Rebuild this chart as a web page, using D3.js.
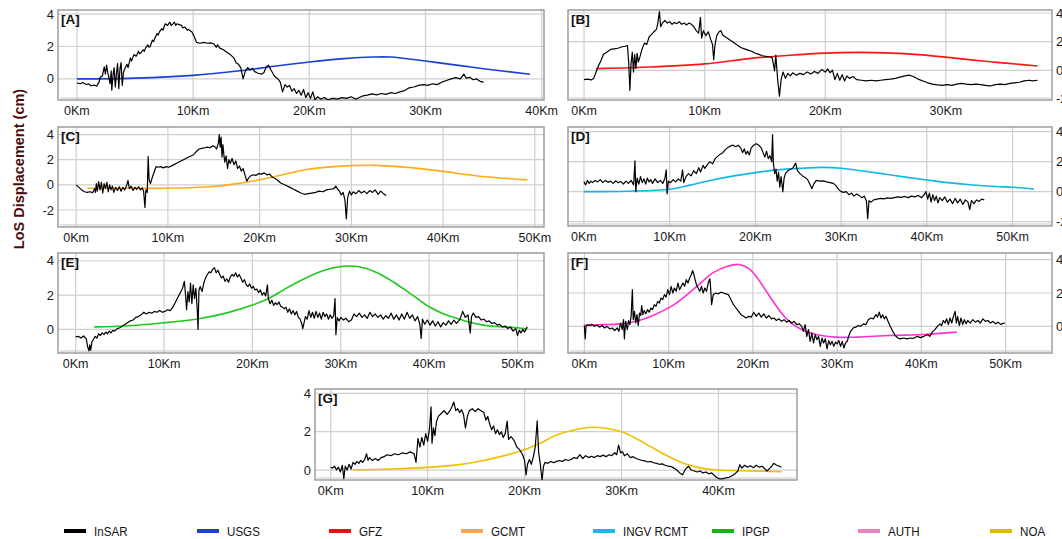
<!DOCTYPE html>
<html><head><meta charset="utf-8">
<script src="https://cdn.jsdelivr.net/npm/d3@7"></script>
<style>
html,body{margin:0;padding:0;background:#fff;}
svg{display:block;}
</style></head>
<body><svg id="chart" width="1062" height="539"></svg>
<script>
// ---------------- DATA ----------------
const legendLabels = ["InSAR","USGS","GFZ","GCMT","INGV RCMT","IPGP","AUTH","NOA"];
const panelLabels = ["[A]","[B]","[C]","[D]","[E]","[F]","[G]"];
const yTitle = "LoS Displacement (cm)";

const insarA = [[0,-0.25],[0.3,-0.3],[0.5,-0.22],[0.8,-0.35],[1.0,-0.3],[1.2,-0.42],[1.5,-0.38],[1.7,-0.45],[1.9,-0.2],[2.0,0.1],[2.2,0.2],[2.35,0.75],[2.45,0.3],[2.55,0.85],[2.65,0.4],[2.75,0.1],[2.85,-0.3],[2.95,0.5],[3.0,-0.7],[3.1,0.2],[3.2,0.7],[3.3,-0.5],[3.4,0.3],[3.5,0.95],[3.6,-0.6],[3.7,0.6],[3.8,1.0],[3.9,-0.4],[4.0,0.4],[4.1,0.6],[4.3,0.9],[4.4,0.7],[4.6,1.3],[4.7,1.1],[4.9,1.5],[5.1,1.4],[5.3,1.7],[5.4,1.55],[5.5,1.6],[5.7,1.8],[5.8,1.7],[5.9,1.9],[6.1,2.1],[6.2,1.95],[6.3,2.0],[6.5,2.4],[6.6,2.3],[6.7,2.5],[6.9,2.8],[7.0,2.7],[7.1,2.9],[7.3,3.1],[7.4,3.0],[7.5,3.2],[7.6,3.4],[7.8,3.3],[8.0,3.5],[8.1,3.3],[8.2,3.35],[8.4,3.5],[8.5,3.3],[8.6,3.4],[8.8,3.35],[9.0,3.3],[9.1,3.15],[9.3,3.2],[9.5,3.0],[9.6,3.05],[9.9,2.9],[10.1,2.6],[10.3,2.25],[10.6,2.2],[10.9,2.25],[11.2,2.2],[11.5,2.22],[11.8,2.15],[12.0,1.95],[12.1,2.1],[12.3,1.9],[12.6,1.8],[12.9,1.65],[13.2,1.5],[13.5,1.3],[13.7,1.0],[13.9,0.9],[14.1,0.7],[14.3,0.0],[14.5,0.5],[14.7,0.7],[14.9,0.55],[15.1,0.65],[15.3,0.45],[15.6,0.35],[15.9,0.3],[16.1,0.4],[16.3,0.75],[16.5,0.85],[16.7,0.55],[16.9,0.3],[17.1,0.1],[17.3,0.0],[17.5,-0.2],[17.7,-0.8],[17.9,-0.35],[18.1,-0.5],[18.3,-0.4],[18.5,-0.75],[18.7,-0.6],[18.9,-0.9],[19.1,-0.7],[19.3,-1.0],[19.5,-0.65],[19.7,-1.15],[19.9,-0.85],[20.1,-1.2],[20.3,-0.8],[20.5,-1.3],[20.7,-1.1],[21.0,-1.25],[21.3,-1.15],[21.6,-1.3],[22.0,-1.2],[22.4,-1.25],[22.8,-1.15],[23.2,-1.2],[23.6,-1.1],[24.0,-1.25],[24.3,-1.15],[24.6,-1.05],[25.0,-1.0],[25.4,-0.92],[25.8,-0.98],[26.2,-0.9],[26.6,-0.95],[27.0,-0.85],[27.4,-0.9],[27.8,-0.8],[28.2,-0.72],[28.6,-0.55],[29.0,-0.5],[29.4,-0.4],[29.8,-0.35],[30.2,-0.4],[30.6,-0.3],[31.0,-0.35],[31.4,-0.2],[31.8,-0.1],[32.2,0.0],[32.6,0.08],[33.0,0.0],[33.3,0.3],[33.5,0.05],[33.8,0.1],[34.1,-0.05],[34.4,0.0],[34.7,-0.15],[35.0,-0.2]];
const usgsA = [[0,0],[5,0.05],[10,0.22],[14,0.5],[17,0.78],[20,1.04],[23,1.25],[25.5,1.35],[27,1.35],[30,1.1],[33,0.82],[35,0.63],[39,0.29]];

const insarB = [[0,-0.65],[0.3,-0.61],[0.6,-0.67],[0.8,-0.56],[1.0,-0.12],[1.2,0.32],[1.4,0.67],[1.6,1.11],[1.9,1.28],[2.2,1.46],[2.5,1.5],[2.8,1.54],[3.1,1.63],[3.4,1.68],[3.6,1.72],[3.7,0.58],[3.8,-1.4],[3.9,0.49],[4.0,1.28],[4.1,-0.12],[4.2,1.11],[4.3,0.14],[4.4,1.19],[4.5,0.58],[4.6,0.84],[4.8,1.46],[5.0,1.9],[5.2,1.81],[5.4,2.34],[5.6,2.51],[5.8,2.69],[6.0,2.86],[6.1,3.21],[6.25,4.1],[6.35,3.04],[6.5,3.3],[6.7,3.48],[6.9,3.3],[7.1,3.39],[7.3,3.21],[7.5,3.34],[7.7,3.26],[7.9,3.39],[8.1,3.21],[8.3,3.3],[8.5,3.17],[8.7,3.3],[8.9,3.21],[9.1,3.04],[9.3,2.77],[9.5,2.6],[9.65,3.7],[9.75,2.25],[9.9,2.77],[10.1,2.42],[10.3,2.69],[10.5,2.16],[10.65,1.81],[10.75,0.75],[10.85,1.72],[11.0,2.42],[11.2,2.69],[11.35,2.77],[11.5,2.47],[11.8,2.29],[12.1,2.12],[12.4,1.94],[12.7,1.76],[13.0,1.59],[13.3,1.5],[13.6,1.41],[13.9,1.33],[14.2,1.19],[14.5,1.11],[14.8,1.02],[15.1,0.97],[15.4,0.93],[15.6,0.89],[15.8,-0.04],[15.9,1.06],[16.05,-0.6],[16.2,-1.8],[16.35,-0.6],[16.5,-0.12],[16.7,-0.56],[16.9,-0.21],[17.1,-0.39],[17.3,-0.17],[17.6,-0.34],[17.9,-0.21],[18.2,-0.3],[18.5,-0.12],[18.8,-0.25],[19.1,-0.08],[19.4,-0.21],[19.7,0.05],[20.0,-0.12],[20.2,0.1],[20.4,-0.17],[20.6,0.01],[20.8,-0.65],[21.0,-0.21],[21.2,-0.69],[21.4,-0.3],[21.6,-0.74],[21.8,-0.39],[22.0,-0.56],[22.3,-0.43],[22.6,-0.65],[23.0,-0.69],[23.4,-0.74],[23.8,-0.69],[24.2,-0.74],[24.6,-0.69],[25.0,-0.65],[25.4,-0.61],[25.8,-0.56],[26.2,-0.47],[26.6,-0.39],[27.0,-0.34],[27.3,-0.43],[27.7,-0.61],[28.1,-0.74],[28.5,-0.87],[28.9,-0.96],[29.3,-1.02],[29.7,-1.05],[30.1,-1.0],[30.5,-1.05],[30.9,-0.96],[31.3,-0.91],[31.7,-0.96],[32.1,-1.0],[32.5,-0.96],[32.9,-1.0],[33.3,-1.05],[33.7,-1.09],[34.1,-1.0],[34.5,-0.96],[34.9,-1.0],[35.3,-0.91],[35.7,-0.87],[36.1,-0.83],[36.5,-0.74],[36.9,-0.69],[37.2,-0.74],[37.6,-0.69]];
const gfzB = [[1.0,0.12],[5,0.22],[10,0.45],[14,0.85],[17,1.05],[20,1.2],[22.7,1.25],[25,1.22],[28,1.08],[30,0.92],[33,0.65],[35,0.5],[37.6,0.3]];

const insarC = [[0,0.0],[0.3,-0.2],[0.6,-0.4],[0.9,-0.55],[1.2,-0.6],[1.5,-0.55],[1.8,-0.62],[2.0,-0.3],[2.1,-0.6],[2.2,0.1],[2.3,-0.5],[2.45,0.25],[2.6,-0.4],[2.75,0.2],[2.9,-0.65],[3.05,0.1],[3.2,-0.3],[3.35,0.2],[3.5,-0.55],[3.65,0.0],[3.8,-0.4],[3.95,-0.1],[4.1,-0.6],[4.3,-0.2],[4.5,-0.45],[4.7,-0.15],[4.9,-0.5],[5.1,-0.2],[5.3,-0.4],[5.5,-0.05],[5.65,0.35],[5.8,-0.3],[6.0,-0.1],[6.2,-0.45],[6.4,-0.2],[6.6,-0.35],[6.8,-0.15],[7.0,-0.4],[7.2,-0.25],[7.35,-0.5],[7.5,-1.8],[7.6,-0.4],[7.75,-0.6],[7.85,2.25],[7.95,0.4],[8.1,0.1],[8.3,0.6],[8.5,1.0],[8.7,1.45],[8.9,1.4],[9.2,1.45],[9.5,1.35],[9.8,1.45],[10.1,1.4],[10.5,1.55],[10.9,1.7],[11.3,1.85],[11.7,2.0],[12.1,2.15],[12.5,2.3],[12.8,2.4],[13.1,2.65],[13.4,2.85],[13.7,2.9],[14.0,2.95],[14.3,3.0],[14.6,2.95],[14.9,3.1],[15.1,3.05],[15.3,2.85],[15.5,3.3],[15.6,4.0],[15.7,3.0],[15.8,3.8],[15.9,2.2],[16.0,3.2],[16.1,2.4],[16.2,1.8],[16.35,2.3],[16.5,1.3],[16.65,2.0],[16.8,1.7],[17.0,2.1],[17.2,1.6],[17.4,1.9],[17.6,1.3],[17.8,1.5],[18.0,1.1],[18.2,1.3],[18.4,0.8],[18.6,0.3],[18.8,0.55],[19.0,0.7],[19.3,0.8],[19.6,0.75],[19.9,0.9],[20.2,0.85],[20.5,0.95],[20.8,0.8],[21.1,0.85],[21.4,0.6],[21.7,0.5],[22.0,0.35],[22.3,0.15],[22.6,0.05],[22.9,-0.05],[23.3,-0.2],[23.7,-0.35],[24.1,-0.5],[24.5,-0.65],[24.9,-0.75],[25.3,-0.7],[25.7,-0.65],[26.1,-0.6],[26.5,-0.5],[26.9,-0.55],[27.3,-0.4],[27.7,-0.35],[28.1,-0.3],[28.3,-0.1],[28.5,-0.35],[28.7,-0.5],[28.9,-0.8],[29.1,-0.6],[29.3,-1.2],[29.45,-2.7],[29.6,-1.0],[29.8,-0.5],[30.0,-0.8],[30.2,-0.55],[30.5,-0.7],[30.8,-0.45],[31.1,-0.65],[31.4,-0.5],[31.7,-0.7],[32.0,-0.45],[32.3,-0.6],[32.6,-0.4],[32.9,-0.75],[33.2,-0.5],[33.5,-0.7],[33.8,-0.85]];
const gcmtC = [[1.25,-0.27],[5,-0.27],[10,-0.27],[15,-0.13],[18,0.15],[20,0.4],[22.5,0.8],[25,1.2],[28,1.45],[30,1.53],[32.6,1.55],[35,1.45],[38,1.25],[40,1.07],[44.3,0.67],[49.2,0.4]];

const insarD = [[0,0.67],[0.2,0.45],[0.4,0.75],[0.6,0.55],[0.8,0.7],[1.0,0.6],[1.3,0.75],[1.6,0.65],[1.9,0.8],[2.2,0.6],[2.5,0.75],[2.8,0.62],[3.1,0.7],[3.4,0.55],[3.7,0.72],[4.0,0.6],[4.3,0.68],[4.6,0.5],[4.9,0.7],[5.2,0.55],[5.5,0.75],[5.8,0.45],[5.95,2.05],[6.05,0.0],[6.2,0.9],[6.4,0.5],[6.6,1.0],[6.8,0.6],[7.0,0.85],[7.2,0.5],[7.4,0.9],[7.6,0.65],[7.8,0.8],[8.0,0.55],[8.3,0.85],[8.6,0.6],[8.9,0.75],[9.2,0.55],[9.45,0.9],[9.6,1.45],[9.7,-0.15],[9.85,0.7],[10.1,0.6],[10.4,0.8],[10.7,0.65],[11.0,0.85],[11.3,0.7],[11.5,1.45],[11.65,0.6],[11.9,1.0],[12.2,1.2],[12.5,1.05],[12.8,1.4],[13.1,1.2],[13.4,1.6],[13.6,1.3],[13.9,1.75],[14.1,1.55],[14.4,1.8],[14.7,2.0],[15.0,1.85],[15.3,2.2],[15.6,2.35],[15.9,2.5],[16.2,2.6],[16.5,2.8],[16.8,2.95],[17.1,3.05],[17.4,3.1],[17.7,3.0],[18.0,3.1],[18.3,2.9],[18.5,2.6],[18.7,2.85],[18.9,2.5],[19.1,2.7],[19.3,2.45],[19.5,2.9],[19.8,3.1],[20.1,3.2],[20.4,3.1],[20.7,2.9],[20.9,2.6],[21.1,2.3],[21.3,2.7],[21.5,2.2],[21.7,2.4],[21.9,2.0],[22.0,3.8],[22.1,1.9],[22.25,1.2],[22.4,1.5],[22.55,0.7],[22.7,1.3],[22.85,0.3],[23.0,1.0],[23.2,0.0],[23.35,0.9],[23.5,1.2],[23.8,1.4],[24.1,1.5],[24.4,1.6],[24.7,1.9],[24.9,1.4],[25.2,1.2],[25.5,1.05],[25.8,0.95],[26.1,0.8],[26.4,0.45],[26.6,0.2],[26.8,0.5],[27.1,0.75],[27.5,0.7],[27.9,0.72],[28.3,0.65],[28.7,0.6],[29.1,0.55],[29.4,0.4],[29.7,0.15],[30.0,0.0],[30.3,-0.05],[30.6,0.0],[30.9,-0.2],[31.2,-0.1],[31.5,-0.3],[31.8,-0.15],[32.1,-0.25],[32.4,-0.4],[32.7,-0.3],[32.95,-0.6],[33.1,-1.8],[33.25,-0.6],[33.5,-0.7],[33.8,-0.55],[34.2,-0.5],[34.6,-0.45],[35.0,-0.48],[35.4,-0.42],[35.8,-0.45],[36.2,-0.4],[36.6,-0.35],[37.0,-0.38],[37.4,-0.32],[37.8,-0.4],[38.2,-0.3],[38.6,-0.35],[39.0,-0.25],[39.4,-0.4],[39.7,-0.2],[39.9,0.0],[40.1,-0.5],[40.3,-0.1],[40.5,-0.7],[40.7,-0.2],[40.9,-0.6],[41.1,-0.3],[41.3,-0.75],[41.5,-0.4],[41.8,-0.6],[42.1,-0.35],[42.4,-0.7],[42.7,-0.5],[43.0,-0.8],[43.3,-0.45],[43.6,-0.75],[43.9,-0.5],[44.2,-0.85],[44.5,-0.55],[44.8,-0.7],[45.0,-1.2],[45.2,-0.6],[45.5,-0.8],[45.8,-0.55],[46.1,-0.65],[46.4,-0.5],[46.7,-0.55]];
const ingvD = [[0,0],[5,0.03],[10,0.16],[12.5,0.45],[15,0.78],[17.5,1.05],[20,1.27],[22.5,1.45],[25,1.55],[27.9,1.62],[30,1.56],[32.5,1.38],[35,1.18],[37.5,0.97],[40,0.78],[42.5,0.6],[45.4,0.44],[48,0.34],[50,0.29],[52.5,0.18]];

const insarE = [[0,-0.43],[0.3,-0.4],[0.6,-0.5],[0.9,-0.38],[1.2,-0.55],[1.35,-1.0],[1.5,-1.25],[1.6,-0.9],[1.7,-1.2],[1.85,-0.7],[2.0,-0.6],[2.2,-0.4],[2.4,-0.5],[2.6,-0.25],[2.8,-0.35],[3.0,-0.2],[3.2,-0.3],[3.4,-0.15],[3.6,-0.25],[3.8,-0.1],[4.0,-0.2],[4.2,-0.05],[4.4,-0.1],[4.7,0.05],[5.0,0.1],[5.3,0.2],[5.6,0.3],[5.9,0.4],[6.2,0.5],[6.5,0.55],[6.8,0.7],[7.1,0.75],[7.4,0.85],[7.7,1.0],[8.0,0.9],[8.3,1.0],[8.6,0.95],[8.9,1.05],[9.2,1.0],[9.5,1.1],[9.8,1.0],[10.1,1.05],[10.4,1.15],[10.7,1.1],[11.0,1.3],[11.3,1.6],[11.6,1.9],[11.9,2.2],[12.1,2.4],[12.3,2.8],[12.45,1.9],[12.55,1.15],[12.7,2.2],[12.85,1.6],[13.0,2.7],[13.15,1.5],[13.3,2.6],[13.45,1.8],[13.6,2.4],[13.75,1.2],[13.85,0.0],[13.95,2.3],[14.1,2.5],[14.3,2.2],[14.5,2.7],[14.7,3.0],[14.9,3.2],[15.1,3.35],[15.3,3.3],[15.5,3.5],[15.7,3.6],[15.9,3.3],[16.1,3.45],[16.3,3.2],[16.5,3.0],[16.7,3.1],[16.9,2.8],[17.1,2.95],[17.3,2.75],[17.5,3.05],[17.7,3.2],[17.9,3.1],[18.1,3.3],[18.3,3.05],[18.5,3.2],[18.7,3.0],[18.9,2.75],[19.1,2.9],[19.3,2.6],[19.5,2.5],[19.7,2.65],[19.9,2.4],[20.1,2.5],[20.3,2.3],[20.5,2.35],[20.7,2.15],[20.9,2.3],[21.1,2.0],[21.3,2.15],[21.5,1.95],[21.7,2.6],[21.8,1.8],[22.0,1.5],[22.2,1.7],[22.4,1.4],[22.6,1.55],[22.8,1.45],[23.0,1.6],[23.2,1.35],[23.4,1.3],[23.6,1.2],[23.8,1.3],[24.0,1.0],[24.2,1.2],[24.4,0.9],[24.6,1.1],[24.8,0.85],[25.0,1.05],[25.2,0.7],[25.4,0.6],[25.6,0.3],[25.7,0.05],[25.85,0.4],[26.0,0.75],[26.2,0.6],[26.4,1.1],[26.6,0.7],[26.8,1.0],[27.0,0.65],[27.2,1.05],[27.4,0.7],[27.6,0.95],[27.8,0.6],[28.0,1.0],[28.2,0.75],[28.4,0.9],[28.6,0.6],[28.8,0.85],[29.0,0.65],[29.2,0.8],[29.35,1.8],[29.45,-0.3],[29.6,0.7],[29.8,0.5],[30.0,0.7],[30.3,0.55],[30.6,0.65],[30.9,0.45],[31.2,0.55],[31.5,0.9],[31.8,0.75],[32.1,0.95],[32.4,0.7],[32.7,0.85],[33.0,0.65],[33.3,1.0],[33.6,0.75],[33.9,0.9],[34.2,0.7],[34.5,0.85],[34.8,0.6],[35.1,0.8],[35.4,0.65],[35.7,0.95],[36.0,0.6],[36.3,0.85],[36.6,0.55],[36.9,0.9],[37.2,0.6],[37.5,1.0],[37.8,0.65],[38.1,0.85],[38.4,0.5],[38.7,0.75],[38.95,0.3],[39.1,-0.52],[39.25,0.6],[39.5,0.3],[39.8,0.55],[40.1,0.25],[40.4,0.5],[40.7,0.2],[41.0,0.45],[41.3,0.15],[41.6,0.4],[41.9,0.25],[42.2,0.5],[42.5,0.3],[42.8,0.55],[43.1,0.35],[43.5,0.6],[43.8,1.05],[44.1,0.7],[44.4,0.85],[44.65,-0.2],[44.8,0.75],[45.0,0.95],[45.3,0.7],[45.6,0.75],[45.9,0.55],[46.2,0.6],[46.5,0.45],[46.8,0.5],[47.1,0.35],[47.4,0.4],[47.7,0.25],[48.0,0.3],[48.3,0.15],[48.6,0.2],[48.9,0.05],[49.2,0.15],[49.5,-0.1],[49.8,0.05],[50.0,-0.35],[50.2,-0.05],[50.4,-0.2],[50.6,0.0],[50.8,-0.15],[51.0,0.05],[51.1,0.15]];
const ipgpE = [[2.1,0.15],[6,0.22],[10,0.39],[14.1,0.64],[17,0.95],[20,1.42],[22,1.85],[23.8,2.39],[26,2.98],[27.9,3.4],[29.5,3.62],[31.1,3.69],[32.7,3.58],[34.3,3.26],[36,2.75],[37.6,2.19],[40,1.32],[41.6,0.92],[43.2,0.64],[44.6,0.42],[46.1,0.25],[48,0.16],[50,0.1],[51.1,0.02]];

const insarF = [[0,0.05],[0.1,-0.76],[0.2,0.0],[0.4,0.1],[0.6,0.05],[0.9,0.12],[1.2,0.0],[1.5,0.08],[1.8,-0.05],[2.1,0.05],[2.4,-0.1],[2.7,0.0],[3.0,-0.15],[3.3,-0.1],[3.6,-0.25],[3.9,-0.1],[4.1,-0.3],[4.3,0.2],[4.5,-0.2],[4.65,0.4],[4.75,-0.75],[4.9,0.3],[5.1,-0.2],[5.25,0.35],[5.4,0.1],[5.55,0.6],[5.7,2.2],[5.8,0.4],[5.95,0.9],[6.1,0.2],[6.25,0.7],[6.4,0.05],[6.55,0.8],[6.7,0.65],[6.8,1.25],[6.95,0.7],[7.1,0.95],[7.3,0.75],[7.5,1.0],[7.7,0.85],[7.9,1.1],[8.1,1.0],[8.3,1.3],[8.5,1.2],[8.7,1.5],[8.9,1.4],[9.1,1.7],[9.3,1.6],[9.5,1.9],[9.7,1.75],[9.9,2.2],[10.1,1.9],[10.3,2.4],[10.5,2.0],[10.7,2.3],[10.9,2.1],[11.1,2.6],[11.3,2.2],[11.5,2.4],[11.7,2.6],[11.9,2.4],[12.1,2.8],[12.3,2.6],[12.5,2.9],[12.7,3.1],[12.85,3.35],[13.0,3.1],[13.15,2.8],[13.3,2.5],[13.5,2.3],[13.7,2.1],[13.9,2.4],[14.1,2.0],[14.3,2.3],[14.5,2.1],[14.7,2.6],[14.9,2.85],[15.0,2.2],[15.1,1.3],[15.3,1.9],[15.6,2.0],[15.9,1.95],[16.2,2.05],[16.5,2.0],[16.8,1.95],[17.1,1.9],[17.4,1.6],[17.7,1.3],[18.0,1.1],[18.3,0.9],[18.6,0.7],[18.9,0.6],[19.2,0.5],[19.5,0.6],[19.8,0.55],[20.1,0.85],[20.4,0.6],[20.7,0.8],[21.0,0.55],[21.3,0.75],[21.6,0.5],[21.9,0.65],[22.2,0.45],[22.5,0.5],[22.8,0.35],[23.1,0.45],[23.4,0.3],[23.7,0.4],[24.0,0.25],[24.3,0.35],[24.6,0.2],[24.9,0.3],[25.2,0.1],[25.5,0.15],[25.8,0.0],[26.0,-0.3],[26.2,0.1],[26.4,-0.6],[26.6,-0.2],[26.8,-0.9],[27.0,-0.4],[27.2,-1.0],[27.4,-0.5],[27.6,-0.8],[27.8,-0.6],[28.0,-1.2],[28.2,-0.7],[28.4,-1.0],[28.6,-0.75],[28.8,-1.35],[29.0,-0.85],[29.2,-1.1],[29.4,-0.9],[29.6,-1.2],[29.8,-0.95],[30.0,-1.05],[30.2,-0.85],[30.4,-1.2],[30.6,-0.9],[30.8,-1.3],[31.0,-1.0],[31.2,-0.9],[31.4,-0.55],[31.6,-0.3],[31.9,-0.1],[32.2,-0.05],[32.5,0.05],[32.8,0.0],[33.1,0.15],[33.4,0.1],[33.7,0.4],[34.0,0.5],[34.3,0.45],[34.6,0.7],[34.8,0.55],[35.0,0.85],[35.2,0.5],[35.4,0.7],[35.6,0.45],[35.8,0.6],[36.0,0.35],[36.3,0.0],[36.6,-0.3],[36.9,-0.55],[37.2,-0.7],[37.5,-0.75],[37.9,-0.7],[38.3,-0.75],[38.7,-0.7],[39.1,-0.72],[39.5,-0.6],[39.9,-0.68],[40.3,-0.6],[40.7,-0.5],[41.0,-0.6],[41.3,-0.35],[41.6,-0.2],[41.9,0.0],[42.2,0.15],[42.4,0.05],[42.6,0.35],[42.8,0.2],[43.0,0.45],[43.2,0.1],[43.4,0.5],[43.6,0.2],[43.8,0.6],[44.0,0.9],[44.15,0.2],[44.3,0.6],[44.5,0.05],[44.7,0.5],[44.9,0.1],[45.1,0.4],[45.3,0.15],[45.5,0.35],[45.8,0.2],[46.1,0.4],[46.4,0.25],[46.7,0.35],[47.0,0.2],[47.3,0.45],[47.6,0.3],[47.9,0.35],[48.2,0.2],[48.5,0.3],[48.8,0.15],[49.1,0.25],[49.4,0.12],[49.7,0.18],[49.9,0.2]];
const authF = [[0,0.06],[2.3,0.1],[4.6,0.16],[6.5,0.35],[8.2,0.67],[10.6,1.29],[12.9,2.2],[15.3,3.22],[16.9,3.59],[18.4,3.71],[19.6,3.43],[20.6,2.85],[21.6,2.1],[22.6,1.35],[23.6,0.67],[24.6,0.18],[25.6,-0.14],[27.5,-0.49],[29.9,-0.65],[32.3,-0.65],[36.2,-0.55],[40.2,-0.49],[44.2,-0.35]];

const insarG = [[0,0.15],[0.2,0.1],[0.4,0.2],[0.6,0.0],[0.8,0.15],[1.0,-0.1],[1.2,0.25],[1.35,-0.45],[1.5,0.2],[1.7,0.0],[1.9,0.3],[2.1,0.05],[2.3,0.4],[2.5,0.3],[2.7,0.45],[2.9,0.35],[3.1,0.5],[3.3,0.4],[3.5,0.55],[3.7,0.85],[3.85,0.5],[4.0,0.65],[4.3,0.5],[4.6,0.6],[4.9,0.5],[5.2,0.65],[5.5,0.7],[5.8,0.8],[6.2,0.75],[6.6,0.85],[7.0,0.8],[7.4,0.9],[7.8,0.85],[8.2,0.95],[8.6,0.85],[8.8,0.4],[9.0,1.65],[9.2,1.2],[9.4,1.7],[9.6,1.3],[9.8,1.9],[10.0,1.5],[10.2,2.2],[10.35,3.3],[10.45,1.4],[10.6,2.2],[10.75,1.8],[10.9,2.5],[11.1,2.8],[11.4,2.95],[11.7,3.1],[12.0,2.9],[12.3,3.1],[12.5,3.3],[12.7,3.55],[12.9,3.1],[13.1,3.2],[13.3,3.0],[13.5,3.15],[13.7,2.9],[13.9,2.2],[14.1,2.8],[14.3,3.1],[14.6,3.2],[14.9,3.05],[15.2,3.2],[15.5,3.1],[15.8,3.0],[16.0,2.6],[16.2,2.8],[16.4,2.4],[16.6,2.1],[16.8,2.3],[17.0,1.9],[17.2,2.1],[17.4,1.85],[17.6,2.0],[17.8,1.7],[18.0,1.9],[18.2,2.55],[18.35,1.6],[18.6,1.75],[18.9,1.55],[19.2,1.2],[19.5,1.05],[19.8,0.8],[20.0,0.5],[20.15,-0.26],[20.3,0.3],[20.5,0.55],[20.7,0.3],[20.9,0.7],[21.1,1.2],[21.3,2.57],[21.45,0.9],[21.6,0.4],[21.8,-0.55],[21.95,0.2],[22.1,0.4],[22.4,0.35],[22.7,0.45],[23.0,0.38],[23.3,0.45],[23.6,0.5],[23.9,0.45],[24.2,0.55],[24.5,0.5],[24.8,0.55],[25.1,0.65],[25.4,0.6],[25.7,0.8],[26.0,0.6],[26.3,0.75],[26.6,0.65],[26.9,0.72],[27.2,0.65],[27.5,0.75],[27.8,0.7],[28.1,0.78],[28.4,0.7],[28.7,0.8],[29.0,0.75],[29.3,0.9],[29.5,0.8],[29.7,1.3],[29.9,0.9],[30.1,0.95],[30.3,0.75],[30.6,0.85],[30.9,0.65],[31.2,0.7],[31.5,0.6],[31.8,0.55],[32.1,0.5],[32.4,0.48],[32.7,0.42],[33.0,0.45],[33.3,0.38],[33.6,0.35],[33.9,0.3],[34.2,0.32],[34.5,0.25],[34.8,0.2],[35.1,0.18],[35.4,0.1],[35.7,0.0],[36.0,-0.15],[36.3,-0.25],[36.6,0.05],[36.9,0.2],[37.2,0.0],[37.5,-0.05],[37.8,-0.1],[38.1,-0.05],[38.4,-0.15],[38.7,-0.1],[39.0,-0.2],[39.3,-0.15],[39.6,-0.3],[39.9,-0.42],[40.2,-0.46],[40.5,-0.45],[40.8,-0.4],[41.1,-0.38],[41.4,-0.3],[41.7,-0.2],[42.0,-0.05],[42.2,0.28],[42.4,0.1],[42.7,0.25],[43.0,0.15],[43.3,0.22],[43.6,0.12],[43.9,0.25],[44.2,0.15],[44.5,0.2],[44.8,0.05],[45.0,-0.05],[45.3,0.1],[45.5,0.2],[45.7,0.35],[46.0,0.25],[46.3,0.2],[46.5,0.14]];
const noaG = [[2.3,0],[6,0.05],[10,0.14],[13,0.27],[15.1,0.43],[17.5,0.7],[19.9,1.04],[21.6,1.4],[23.3,1.83],[25.2,2.1],[27.1,2.23],[28.5,2.17],[30,2.0],[31.5,1.65],[33,1.22],[34.7,0.75],[36.4,0.35],[38.2,0.1],[40,0],[43.3,-0.05],[46.5,-0.09]];

const xTicksA = [0,10,20,30,40];
const xTicksB = [0,10,20,30];
const xTicks50 = [0,10,20,30,40,50];
const xTicksG = [0,10,20,30,40];
const yTicks3 = [0,2,4];
const yTicks4 = [-2,0,2,4];

// ---------------- STYLE / LAYOUT ----------------
const lineColors = ["#000000","#1a3fd6","#ff1414","#ffab1a","#12b6e6","#1ec81e","#ff30d0","#f0c000"];
const legendColors = ["#000000","#1a3fd1","#ee1111","#ffa54f","#1ab8e8","#11b511","#e884c4","#e0b800"];

const panels = [
  {lab:0, insar:insarA, model:usgsA, mi:1, x0:58, x1:544, y0:10, y1:100, xd:[-1.63,40.2], yd:[-1.3,4.25], xt:xTicksA, yt:yTicks3, side:"left"},
  {lab:1, insar:insarB, model:gfzB, mi:2, x0:568, x1:1052, y0:10, y1:100, xd:[-1.33,38.8], yd:[-2.07,4.21], xt:xTicksB, yt:yTicks4, side:"right"},
  {lab:2, insar:insarC, model:gcmtC, mi:3, x0:58, x1:544, y0:127, y1:227, xd:[-1.98,51.0], yd:[-3.35,4.6], xt:xTicks50, yt:yTicks4, side:"left"},
  {lab:3, insar:insarD, model:ingvD, mi:4, x0:568, x1:1052, y0:127, y1:226, xd:[-1.86,54.6], yd:[-2.29,4.31], xt:xTicks50, yt:yTicks4, side:"right"},
  {lab:4, insar:insarE, model:ipgpE, mi:5, x0:58, x1:544, y0:253, y1:353, xd:[-2.0,53.0], yd:[-1.37,4.45], xt:xTicks50, yt:yTicks3, side:"left"},
  {lab:5, insar:insarF, model:authF, mi:6, x0:568, x1:1052, y0:253, y1:353, xd:[-1.94,55.5], yd:[-1.6,4.4], xt:xTicks50, yt:yTicks3, side:"right"},
  {lab:6, insar:insarG, model:noaG, mi:7, x0:315, x1:797, y0:389, y1:480, xd:[-1.62,48.1], yd:[-0.52,4.23], xt:xTicksG, yt:yTicks3, side:"left"}
];

const FONT = "'Liberation Sans', Arial, sans-serif";
const svg = d3.select("#chart");
const defs = svg.append("defs");

panels.forEach((p, i) => {
  const x = d3.scaleLinear().domain(p.xd).range([p.x0, p.x1]);
  const y = d3.scaleLinear().domain(p.yd).range([p.y1, p.y0]);
  const g = svg.append("g");
  const cid = "clip" + i;
  defs.append("clipPath").attr("id", cid).append("rect")
    .attr("x", p.x0).attr("y", p.y0).attr("width", p.x1 - p.x0).attr("height", p.y1 - p.y0);

  // grid
  g.append("g").selectAll("line").data(p.xt.filter(t => x(t) > p.x0 + 2 && x(t) < p.x1 - 2)).join("line")
    .attr("x1", d => x(d)).attr("x2", d => x(d)).attr("y1", p.y0).attr("y2", p.y1)
    .attr("stroke", "#cfcfcf").attr("stroke-width", 1.2);
  g.append("g").selectAll("line").data(p.yt.filter(t => y(t) > p.y0 + 2 && y(t) < p.y1 - 2)).join("line")
    .attr("x1", p.x0).attr("x2", p.x1).attr("y1", d => y(d)).attr("y2", d => y(d))
    .attr("stroke", "#cfcfcf").attr("stroke-width", 1.2);

  // frame
  g.append("rect").attr("x", p.x0).attr("y", p.y0).attr("width", p.x1 - p.x0).attr("height", p.y1 - p.y0)
    .attr("fill", "none").attr("stroke", "#8f8f8f").attr("stroke-width", 1.3);
  g.append("line").attr("x1", p.x0 + 2).attr("x2", p.x1).attr("y1", p.y1 - 2).attr("y2", p.y1 - 2)
    .attr("stroke", "#c4c4c4").attr("stroke-width", 1);

  // lines
  const lineI = d3.line().x(d => x(d[0])).y(d => y(d[1]));
  const lineM = d3.line().x(d => x(d[0])).y(d => y(d[1])).curve(d3.curveCatmullRom.alpha(0.5));
  const plot = g.append("g").attr("clip-path", `url(#${cid})`);
  plot.append("path").datum(p.model).attr("d", lineM).attr("fill", "none")
    .attr("stroke", lineColors[p.mi]).attr("stroke-width", 1.6);
  plot.append("path").datum(p.insar).attr("d", lineI).attr("fill", "none")
    .attr("stroke", "#000").attr("stroke-width", 1.2).attr("stroke-linejoin", "round");

  // x labels
  g.append("g").selectAll("text").data(p.xt).join("text")
    .attr("x", d => x(d)).attr("y", p.y1 + 15).attr("text-anchor", "middle")
    .attr("font-family", FONT).attr("font-size", 12.5).attr("fill", "#1a1a1a")
    .text(d => d + "Km");
  // y labels
  g.append("g").selectAll("text").data(p.yt).join("text")
    .attr("x", p.side === "left" ? p.x0 - 4 : p.x1 + 4)
    .attr("y", d => y(d) + 4.5)
    .attr("text-anchor", p.side === "left" ? "end" : "start")
    .attr("font-family", FONT).attr("font-size", 13).attr("fill", "#1a1a1a")
    .text(d => d);
  // panel label
  g.append("text").attr("x", p.x0 + 3).attr("y", p.y0 + 14)
    .attr("font-family", FONT).attr("font-size", 13.5).attr("font-weight", "bold").attr("fill", "#111")
    .text(panelLabels[p.lab]);
});

// y title
svg.append("text").attr("transform", "translate(24,169) rotate(-90)")
  .attr("text-anchor", "middle").attr("font-family", FONT).attr("font-size", 14.5)
  .attr("font-weight", "bold").attr("fill", "#4a0d0d").text(yTitle);

// legend
const legX = [64, 197, 329, 461, 593, 712, 858, 990];
const leg = svg.append("g");
legendLabels.forEach((l, i) => {
  leg.append("line").attr("x1", legX[i]).attr("x2", legX[i] + 22).attr("y1", 531).attr("y2", 531)
    .attr("stroke", legendColors[i]).attr("stroke-width", 4);
  leg.append("text").attr("transform", `translate(${legX[i] + 30},535.5) scale(0.86,1)`)
    .attr("font-family", FONT).attr("font-size", 13.5)
    .attr("fill", "#111").text(l);
});
</script></body></html>
